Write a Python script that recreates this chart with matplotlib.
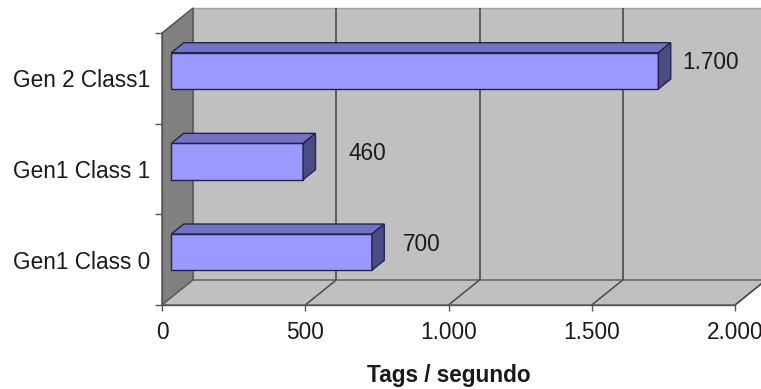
import matplotlib
matplotlib.use("Agg")
import matplotlib.pyplot as plt
from matplotlib.patches import Polygon

plt.rcParams['font.family'] = ['Liberation Sans', 'DejaVu Sans']

# Data (bottom to top)
categories = ["Gen1 Class 0", "Gen1 Class 1", "Gen 2 Class1"]
values = [700, 460, 1700]
x_ticks = [0, 500, 1000, 1500, 2000]
x_title = "Tags / segundo"

# Styling
label_dx = [44, 58, 46]          # pixel nudges for value labels
FS = 16.3
W, H = 761, 389
X_MAX = 2000
N = len(categories)

fig = plt.figure(figsize=(W / 100, H / 100), dpi=100)
fig.patch.set_facecolor("white")
ax = fig.add_axes([162 / W, (H - 305) / H, (735 - 162) / W, (305 - 33) / H])
ax.set_xlim(0, X_MAX)
ax.set_ylim(0, N)
ax.patch.set_visible(False)

# depth offset of the 3D box, expressed in data units
DX = 31 / 573 * X_MAX
DY = 25 / 272 * N


def P(x, y, d):
    return (x + d * DX, y + d * DY)


def poly(pts, fc, ec, lw=1.0, z=1):
    ax.add_patch(Polygon(pts, closed=True, facecolor=fc, edgecolor=ec,
                         linewidth=lw, zorder=z, clip_on=False,
                         joinstyle="miter"))


def line(p0, p1, color, lw=1.2, z=2):
    ax.plot([p0[0], p1[0]], [p0[1], p1[1]], color=color, lw=lw,
            zorder=z, clip_on=False, solid_capstyle="butt")


# walls and floor
poly([P(0, 0, 1), P(X_MAX, 0, 1), P(X_MAX, N, 1), P(0, N, 1)],
     "#c0c0c0", "#a0a0a0", 1.0, 1)
poly([P(0, 0, 0), P(0, 0, 1), P(0, N, 1), P(0, N, 0)],
     "#808080", "#505050", 1.0, 1.1)
poly([P(0, 0, 0), P(X_MAX, 0, 0), P(X_MAX, 0, 1), P(0, 0, 1)],
     "#c0c0c0", "#5a5a5a", 1.0, 1.2)

# gridlines on floor and back wall
for v in x_ticks[1:]:
    line(P(v, 0, 0), P(v, 0, 1), "#4a4a4a", 1.1, 1.3)
    if v < X_MAX:
        line(P(v, 0, 1), P(v, N, 1), "#4a4a4a", 1.2, 1.3)

# 3D bars
h = 0.2
d0, d1 = 0.3, 0.7
front_c, top_c, side_c, edge_c = "#9999ff", "#7373c6", "#4c4c84", "#24244a"
for i, v in enumerate(values):
    c = i + 0.5
    poly([P(0, c - h, d0), P(v, c - h, d0), P(v, c + h, d0), P(0, c + h, d0)],
         front_c, edge_c, 1.0, 3)
    poly([P(0, c + h, d0), P(v, c + h, d0), P(v, c + h, d1), P(0, c + h, d1)],
         top_c, edge_c, 1.0, 3)
    poly([P(v, c - h, d0), P(v, c - h, d1), P(v, c + h, d1), P(v, c + h, d0)],
         side_c, edge_c, 1.0, 3)
    txt = f"{v:,}".replace(",", ".")
    ax.annotate(txt, xy=P(v, c, 0.5), xytext=(label_dx[i], 3),
                textcoords="offset pixels", ha="center", va="center",
                fontsize=FS, color="#1a1a1a", zorder=5, annotation_clip=False)

# axes: spines, ticks and labels
for s in ["top", "right"]:
    ax.spines[s].set_visible(False)
for s in ["left", "bottom"]:
    ax.spines[s].set_color("#555555")
    ax.spines[s].set_linewidth(1.0)
    ax.spines[s].set_zorder(1.5)

ax.set_xticks(x_ticks)
ax.set_xticklabels([f"{t:,}".replace(",", ".") for t in x_ticks])
ax.tick_params(axis="x", direction="out", length=4, width=1,
               color="#555555", pad=7.3, labelsize=FS, labelcolor="#1a1a1a")

ax.set_yticks(range(N + 1))
ax.set_yticklabels([""] * (N + 1))
ax.tick_params(axis="y", which="major", direction="out", length=5, width=1,
               color="#555555")
ax.set_yticks([i + 0.5 for i in range(N)], minor=True)
ax.set_yticklabels(categories, minor=True)
ax.tick_params(axis="y", which="minor", length=0, pad=8.7, labelsize=FS,
               labelcolor="#1a1a1a")

ax.set_xlabel(x_title, fontsize=FS, fontweight="bold", color="#1a1a1a",
              labelpad=14.8)

fig.savefig("out.png", dpi=100, facecolor="white")
